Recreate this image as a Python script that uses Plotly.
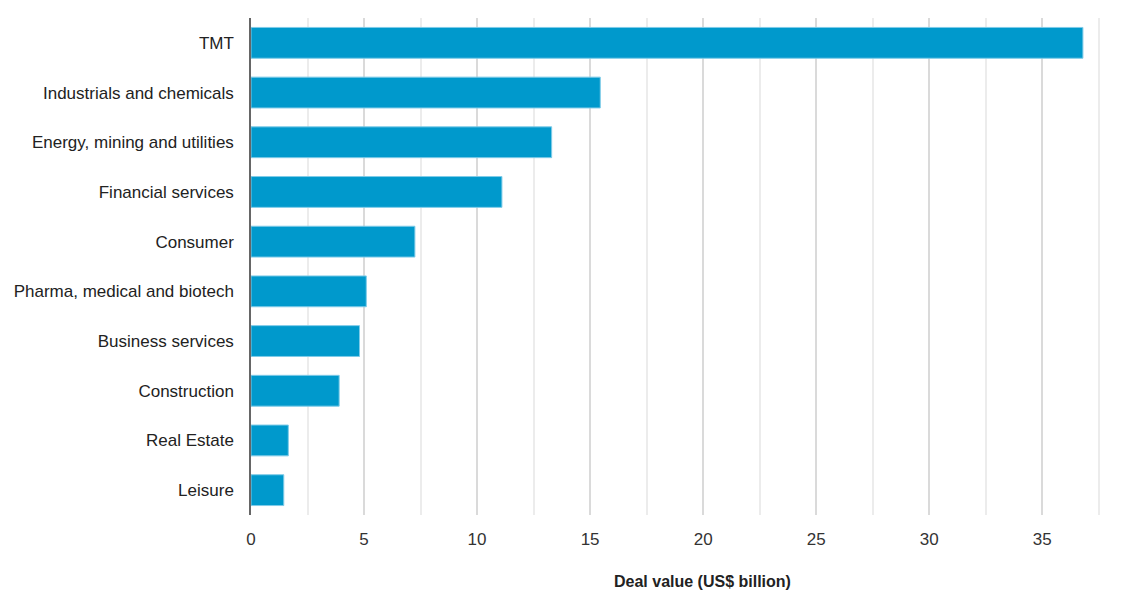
import plotly.graph_objects as go

categories = ["TMT", "Industrials and chemicals", "Energy, mining and utilities",
              "Financial services", "Consumer", "Pharma, medical and biotech",
              "Business services", "Construction", "Real Estate", "Leisure"]
values = [36.8, 15.45, 13.3, 11.1, 7.25, 5.1, 4.8, 3.9, 1.65, 1.45]
x_ticks = [0, 5, 10, 15, 20, 25, 30, 35]
x_title = "Deal value (US$ billion)"

# page body has an 8px margin, so figure is sized/offset accordingly
W, H = 1134, 584
L, R, T, B = 243, 41, 10, 77

fig = go.Figure()
fig.add_trace(go.Bar(
    x=values, y=categories, orientation="h",
    marker=dict(color="#0099cc", line=dict(color="#7fcbe8", width=1)),
    hoverinfo="x+y",
))

FONT = "Liberation Sans, Arial, sans-serif"

fig.update_layout(
    width=W, height=H,
    margin=dict(l=L, r=R, t=T, b=B, pad=0),
    plot_bgcolor="white", paper_bgcolor="white",
    bargap=0.38,
    showlegend=False,
    font=dict(family=FONT, size=17, color="#333333"),
    xaxis=dict(
        range=[0, 37.6], tickvals=x_ticks, ticktext=[str(v) for v in x_ticks],
        showgrid=True, gridcolor="#dadada", gridwidth=2,
        minor=dict(dtick=2.5, tick0=0, showgrid=True, gridcolor="#ececec", gridwidth=1.5),
        zeroline=False, showline=False, ticks="", ticklen=0,
        ticklabelstandoff=12,
        tickfont=dict(family=FONT, size=17, color="#333333"),
        automargin=False,
    ),
    yaxis=dict(
        categoryorder="array", categoryarray=categories[::-1],
        showgrid=False, zeroline=False,
        showline=True, linecolor="#666666", linewidth=1.5,
        ticks="", ticklabelstandoff=12,
        tickfont=dict(family=FONT, size=17, color="#222222"),
        automargin=False,
    ),
)

fig.add_annotation(
    text="<b>" + x_title + "</b>", xref="paper", yref="paper",
    x=(694 - L) / (W - L - R), y=-(574 - (H - B)) / (H - T - B),
    xanchor="center", yanchor="middle", showarrow=False,
    font=dict(family=FONT, size=16, color="#222222"),
)

fig.write_html("out.html")
